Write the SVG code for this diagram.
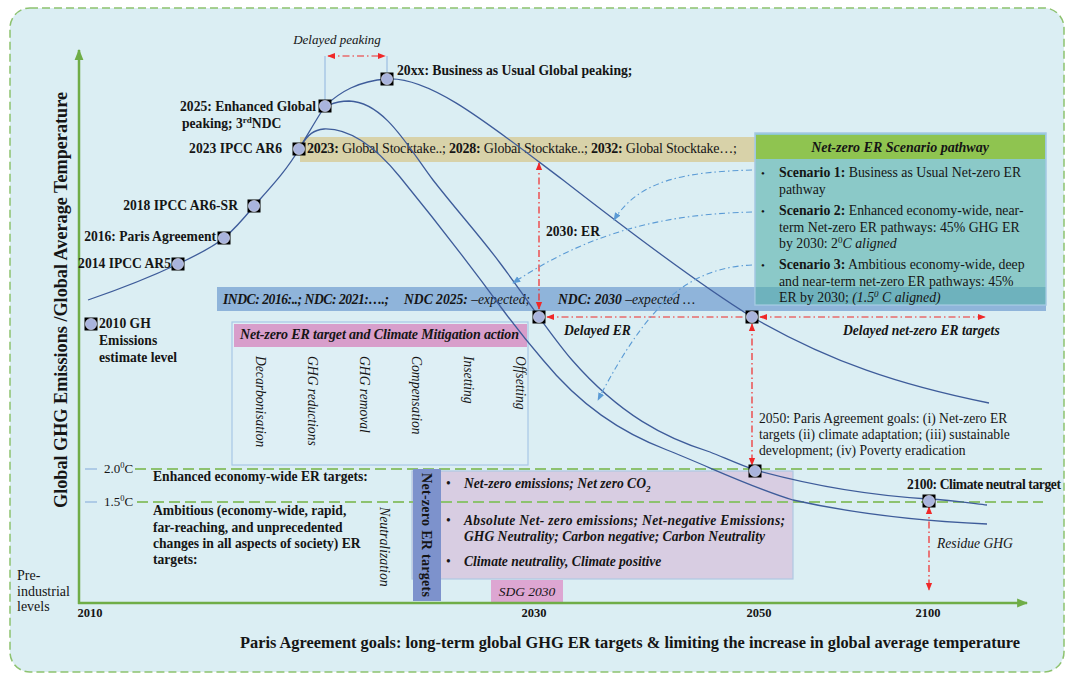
<svg xmlns="http://www.w3.org/2000/svg" xmlns:xlink="http://www.w3.org/1999/xlink" width="1069" height="678" viewBox="0 0 1069 678" font-size="13.6">
<style>
.t{font-family:"Liberation Serif","Times New Roman",serif;fill:#151515}
.b{font-weight:bold}
.i{font-style:italic}
.crv{fill:none;stroke:#3E5C9A;stroke-width:1.3}
.red{fill:none;stroke:#F02828;stroke-width:1.2;stroke-dasharray:7 3 1.5 3}
.bl{fill:none;stroke:#5B9BD5;stroke-width:1.1;stroke-dasharray:6 3 1.5 3}
.gd{stroke:#8DC26F;stroke-width:2;stroke-dasharray:11 5;fill:none}
.ax{stroke:#6FAD47;stroke-width:2.5;fill:none}
.tick{stroke:#8FB4DE;stroke-width:1.2}
</style>
<defs>
<marker id="ra" viewBox="0 0 10 10" refX="9" refY="5" markerWidth="8" markerHeight="8" markerUnits="userSpaceOnUse" orient="auto-start-reverse"><path d="M0,1 L10,5 L0,9z" fill="#F02828"/></marker>
<marker id="ba" viewBox="0 0 10 10" refX="9" refY="5" markerWidth="8" markerHeight="8" markerUnits="userSpaceOnUse" orient="auto-start-reverse"><path d="M0,1 L10,5 L0,9z" fill="#5B9BD5"/></marker>
<marker id="ga" viewBox="0 0 10 10" refX="9" refY="5" markerWidth="11" markerHeight="11" markerUnits="userSpaceOnUse" orient="auto"><path d="M0,1 L10,5 L0,9z" fill="#6FAD47"/></marker>
<g id="mk"><rect x="-6.5" y="-6.5" width="13" height="13" fill="#000"/><circle r="5.6" fill="#A9B4DD" stroke="#E4E8F6" stroke-width="0.6"/></g>
</defs>

<rect x="10" y="8" width="1054" height="664" rx="20" fill="#DBEEF3" stroke="#8DC26F" stroke-width="1.5" stroke-dasharray="8 4"/>

<!-- bars and boxes -->
<g id="stocktake-bar"><rect x="300" y="137" width="460" height="25" fill="#D8D2A9"/>
<text class="t" x="307" y="153" textLength="430" font-size="14"><tspan class="b">2023:</tspan> Global Stocktake..; <tspan class="b">2028:</tspan> Global Stocktake..; <tspan class="b">2032:</tspan> Global Stocktake…;</text></g>

<g id="indc-bar"><rect x="217" y="287" width="829" height="24" fill="#8FB4DA"/>
<text class="t i b" x="223" y="304" textLength="166">INDC: 2016:..; NDC: 2021:….;</text>
<text class="t i" x="404" y="304"><tspan class="b">NDC 2025:</tspan> –expected;</text>
<text class="t i" x="558" y="304"><tspan class="b">NDC: 2030</tspan> –expected …</text></g>

<g id="scenario-box">
<rect x="755" y="133" width="291" height="172" fill="#8BC9C8" stroke="#A5C8E4" stroke-width="1.5"/>
<rect x="755.7" y="287" width="289.6" height="17.3" fill="#6EB2BD"/>
<rect x="756" y="135" width="289" height="24" fill="#8FC450"/>
<text class="t b i" x="900" y="152" text-anchor="middle" font-size="14">Net-zero ER Scenario pathway</text>
<g class="t" font-size="11" fill="#778"><text x="761" y="177">•</text><text x="761" y="215">•</text><text x="761" y="269">•</text></g>
<g font-size="13.8">
<text class="t" x="779" y="177"><tspan class="b">Scenario 1:</tspan> Business as Usual Net-zero ER</text>
<text class="t" x="779" y="194">pathway</text>
<text class="t" x="779" y="215"><tspan class="b">Scenario 2:</tspan> Enhanced economy-wide, near-</text>
<text class="t" x="779" y="232">term Net-zero ER pathways: 45% GHG ER</text>
<text class="t" x="779" y="248">by 2030: 2<tspan dy="-5" font-size="9">0</tspan><tspan dy="5" class="i">C aligned</tspan></text>
<text class="t" x="779" y="269"><tspan class="b">Scenario 3:</tspan> Ambitious economy-wide, deep</text>
<text class="t" x="779" y="286">and near-term net-zero ER pathways: 45%</text>
<text class="t" x="779" y="302">ER by 2030; <tspan class="i">(1.5<tspan dy="-5" font-size="9">0</tspan><tspan dy="5"> C aligned)</tspan></tspan></text>
</g>
</g>

<g id="mitigation-box">
<rect x="232" y="322" width="296" height="143" fill="#DEEFF5" stroke="#A7C7E7" stroke-width="1.2"/>
<rect x="234" y="324" width="293" height="23" fill="#D89ECB"/>
<text class="t b i" x="240" y="339" textLength="279" font-size="14">Net-zero ER target and Climate Mitigation action</text>
<text class="t i" transform="translate(256,356) rotate(90)">Decarbonisation</text>
<text class="t i" transform="translate(308,356) rotate(90)">GHG reductions</text>
<text class="t i" transform="translate(360,356) rotate(90)">GHG removal</text>
<text class="t i" transform="translate(412,356) rotate(90)">Compensation</text>
<text class="t i" transform="translate(464,356) rotate(90)">Insetting</text>
<text class="t i" transform="translate(516,356) rotate(90)">Offsetting</text>
</g>

<g id="targets-box">
<rect x="412" y="471" width="381" height="108" fill="#D8CDE2" stroke="#AFC9E3" stroke-width="1.2"/>
<text class="t" x="446" y="488">•</text>
<text class="t" x="446" y="525">•</text>
<text class="t" x="446" y="566">•</text>
<text class="t i b" x="464" y="488">Net-zero emissions; Net zero CO<tspan dy="4" font-size="9">2</tspan></text>
<text class="t i b" x="464" y="525" textLength="321">Absolute Net- zero  emissions;  Net-negative Emissions;</text>
<text class="t i b" x="464" y="541">GHG Neutrality; Carbon negative; Carbon Neutrality</text>
<text class="t i b" x="464" y="566">Climate neutrality, Climate positive</text>
</g>

<g id="sdg-2030"><rect x="491" y="580" width="72" height="23" fill="#DDA6D2"/>
<text class="t i" x="527" y="596" text-anchor="middle" font-size="13.5">SDG 2030</text></g>

<!-- temperature thresholds -->
<g id="threshold-lines">
<line class="gd" x1="135" y1="469" x2="1043" y2="469"/>
<line class="gd" x1="137" y1="502" x2="1043" y2="502"/>
<line class="tick" x1="85" y1="469" x2="97" y2="469"/>
<line class="tick" x1="85" y1="502" x2="97" y2="502"/>
<text class="t" x="104" y="473" font-size="13">2.0<tspan dy="-5" font-size="8.5">0</tspan><tspan dy="5">C</tspan></text>
<text class="t" x="104" y="506" font-size="13">1.5<tspan dy="-5" font-size="8.5">0</tspan><tspan dy="5">C</tspan></text>
</g>

<g id="netzero-targets-bar"><rect x="413" y="469" width="28" height="132" fill="#7D92CC"/>
<text class="t b" transform="translate(422,473) rotate(90)" textLength="124" font-size="14">Net-zero ER targets</text></g>

<!-- axes -->
<g id="axes">
<line class="ax" x1="79" y1="604" x2="79" y2="50" marker-end="url(#ga)"/>
<line class="ax" x1="78" y1="603" x2="1027" y2="603" marker-end="url(#ga)"/>
<text class="t b" transform="translate(67,300) rotate(-90)" text-anchor="middle" textLength="416" lengthAdjust="spacingAndGlyphs" font-size="18">Global GHG Emissions /Global Average Temperature</text>
<text class="t b" x="90" y="617" text-anchor="middle" font-size="12.5">2010</text>
<text class="t b" x="534" y="617" text-anchor="middle" font-size="12.5">2030</text>
<text class="t b" x="759" y="617" text-anchor="middle" font-size="12.5">2050</text>
<text class="t b" x="928" y="617" text-anchor="middle" font-size="12.5">2100</text>
<text class="t b" x="240" y="648" textLength="780" lengthAdjust="spacingAndGlyphs" font-size="16.2">Paris Agreement goals: long-term global GHG ER targets &amp; limiting the increase in global average temperature</text>
<text class="t" x="17" y="580" font-size="14">Pre-</text>
<text class="t" x="17" y="596" font-size="14">industrial</text>
<text class="t" x="17" y="611" font-size="14">levels</text>
</g>

<!-- connectors -->
<g id="connectors">
<path class="crv" d="M88,300 C120,289 155,275 178,264 C195,256 212,248 224,238 C236,228 245,217 254,206 C270,188 287,170 299,149 C308,134 316,120 325,106"/>
<path class="crv" d="M325,106 C340,92 358,81 387,79 C430,76 490,125 563,180 C640,240 700,285 752,317 C830,362 900,385 989,403"/>
<path class="crv" d="M329,105 C336,102 342,101 349,101 C385,102 410,150 433,180 C458,212 480,236 500,263 C515,283 527,300 539,317 C550,332 560,346 572,360 C620,415 665,438 710,452 C725,458 740,465 755,470 C820,488 880,496 928,499 C950,500 970,503 987,505"/>
<path class="crv" d="M301,146 C308,134 314,130 324,129 C352,128 378,150 400,177 C440,226 470,265 503,310 C520,333 530,345 543,360 C580,405 620,432 667,450 C710,467 750,487 793,500 C860,515 920,521 987,524"/>
<line x1="325" y1="56" x2="325" y2="100" stroke="#8FB4DE" stroke-width="1"/>
<line x1="387" y1="56" x2="387" y2="72" stroke="#8FB4DE" stroke-width="1"/>
<line class="red" x1="328" y1="56" x2="385" y2="56" marker-start="url(#ra)" marker-end="url(#ra)"/>
<line class="red" x1="539" y1="163" x2="539" y2="309" marker-start="url(#ra)" marker-end="url(#ra)"/>
<line class="red" x1="547" y1="317" x2="745" y2="317" marker-start="url(#ra)"/>
<line class="red" x1="760" y1="317" x2="985" y2="317" marker-start="url(#ra)" marker-end="url(#ra)"/>
<line class="red" x1="752" y1="324" x2="752" y2="465" marker-start="url(#ra)" marker-end="url(#ra)"/>
<line class="red" x1="929" y1="507" x2="929" y2="590" marker-start="url(#ra)" marker-end="url(#ra)"/>
<path class="bl" d="M752,170 C690,172 640,178 614,220" marker-end="url(#ba)"/>
<path class="bl" d="M752,212 C680,214 600,225 513,283" marker-end="url(#ba)"/>
<path class="bl" d="M752,265 C690,268 650,300 598,400" marker-end="url(#ba)"/>
</g>

<!-- nodes -->
<g id="n2010"><use xlink:href="#mk" x="91" y="324"/>
<text class="t b" x="99" y="328">2010 GH</text><text class="t b" x="99" y="345">Emissions</text><text class="t b" x="99" y="362">estimate level</text></g>
<g id="n2014"><use xlink:href="#mk" x="178" y="264"/><text class="t b" x="171" y="268" text-anchor="end">2014 IPCC AR5</text></g>
<g id="n2016"><use xlink:href="#mk" x="224" y="238"/><text class="t b" x="216" y="241" text-anchor="end">2016: Paris Agreement</text></g>
<g id="n2018"><use xlink:href="#mk" x="254" y="206"/><text class="t b" x="238" y="210" text-anchor="end">2018 IPCC AR6-SR</text></g>
<g id="n2023"><use xlink:href="#mk" x="299" y="149"/><text class="t b" x="282" y="153" text-anchor="end">2023 IPCC AR6</text></g>
<g id="n2025"><use xlink:href="#mk" x="325" y="106"/>
<text class="t b" x="316" y="111" text-anchor="end">2025: Enhanced Global</text>
<text class="t b" x="182" y="128">peaking; 3<tspan dy="-5" font-size="9">rd</tspan><tspan dy="5">NDC</tspan></text></g>
<g id="n20xx"><use xlink:href="#mk" x="387" y="79"/><text class="t b" x="397" y="75" font-size="13.7">20xx: Business as Usual Global peaking;</text>
<text class="t i" x="337" y="44" text-anchor="middle" font-size="13">Delayed peaking</text></g>
<g id="n2030"><use xlink:href="#mk" x="539" y="317"/><text class="t b" x="546" y="236">2030: ER</text>
<text class="t b i" x="564" y="335">Delayed ER</text></g>
<g id="n2050a"><use xlink:href="#mk" x="752" y="317"/><text class="t b i" x="843" y="335">Delayed net-zero ER targets</text></g>
<g id="n2050b"><use xlink:href="#mk" x="755" y="471"/>
<text class="t" x="759" y="423">2050: Paris Agreement goals: (i) Net-zero  ER</text>
<text class="t" x="759" y="439">targets (ii) climate adaptation; (iii) sustainable</text>
<text class="t" x="759" y="455">development; (iv) Poverty eradication</text></g>
<g id="n2100"><use xlink:href="#mk" x="929" y="501"/><text class="t b" x="907" y="489" textLength="154">2100: Climate neutral target</text>
<text class="t i" x="937" y="548">Residue GHG</text></g>

<g id="er-target-labels">
<text class="t b" x="153" y="481">Enhanced economy-wide ER targets:</text>
<text class="t b" x="153" y="515">Ambitious (economy-wide, rapid,</text>
<text class="t b" x="153" y="532">far-reaching,  and unprecedented</text>
<text class="t b" x="153" y="548">changes in all aspects of society) ER</text>
<text class="t b" x="153" y="564">targets:</text>
<text class="t i" transform="translate(380,507) rotate(90)" font-size="13.8">Neutralization</text>
</g>
</svg>
